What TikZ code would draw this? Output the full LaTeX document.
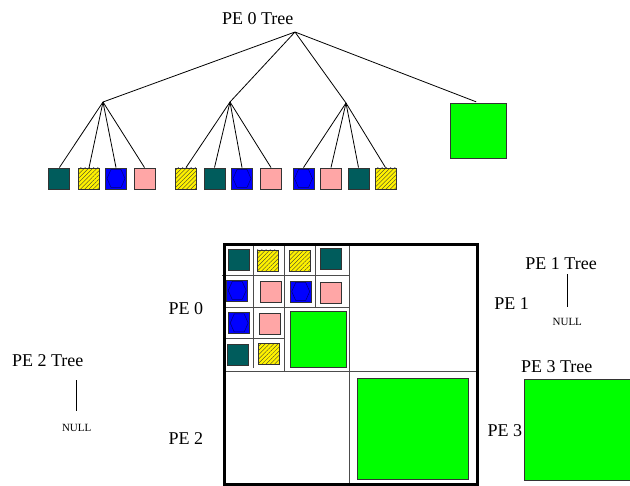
\documentclass[tikz,border=0pt]{standalone}
\usepackage{fontspec}
\setmainfont{Liberation Serif}
\usetikzlibrary{patterns.meta, positioning}
\definecolor{tealbox}{RGB}{0,92,92}
\definecolor{pinkbox}{RGB}{255,166,166}
\tikzstyle{leaf}=[draw=black!80, line width=0.9pt, inner sep=0pt, minimum size=21pt]
\tikzstyle{tl}=[leaf, fill=tealbox]
\tikzstyle{pk}=[leaf, fill=pinkbox]
\tikzstyle{yl}=[leaf, preaction={fill=yellow}, pattern={Lines[angle=45, distance=3pt, line width=0.35pt]}, pattern color=black!80]
\tikzstyle{bl}=[leaf, fill=blue, path picture={\draw[blue!45!black, line width=0.5pt] (path picture bounding box.center) +(-9,0) -- +(-5,-9) -- +(5,-9) -- +(9,0) -- +(5,9) -- +(-5,9) -- cycle;}]
\tikzstyle{big}=[draw=black!80, line width=0.9pt, fill=green, inner sep=0pt]
\tikzstyle{lbl}=[font=\fontsize{18}{20}\selectfont, inner sep=0pt, anchor=base west]
\tikzstyle{nulltext}=[font=\fontsize{11}{12}\selectfont, inner sep=0pt]
\tikzstyle{cell}=[black!70, line width=1pt]

\begin{document}
\begin{tikzpicture}[x=1pt, y=-1pt, line width=0.8pt]
  \useasboundingbox (0,0) rectangle (630,486);
  % PE 0 tree
  \node[lbl] (t0) at (221.7,25) {PE 0 Tree};
  \coordinate (r0) at (295,32);
  \coordinate (s1) at (103,102);
  \coordinate (s2) at (230,102);
  \coordinate (s3) at (346,103);
  \node[big, minimum width=56pt, minimum height=55pt] (g0) at (478,130.5) {};
  \node[tl] (a1) at (59.4,178.5) {};
  \node[yl] (a2) at (89,178.5) {};
  \node[bl] (a3) at (116,178.5) {};
  \node[pk] (a4) at (144.5,178.5) {};
  \node[yl] (b1) at (186,178.5) {};
  \node[tl] (b2) at (214.5,178.5) {};
  \node[bl] (b3) at (242,178.5) {};
  \node[pk] (b4) at (271,178.5) {};
  \node[bl] (c1) at (303.5,178.5) {};
  \node[pk] (c2) at (331,178.5) {};
  \node[tl] (c3) at (358.5,178.5) {};
  \node[yl] (c4) at (385.5,178.5) {};
  \draw (r0) -- (s1) (r0) -- (s2) (r0) -- (s3);
  \draw[shorten >=2pt] (r0) -- (g0.north);
  \foreach \i in {1,...,4} {
    \draw (s1) -- (a\i.north);
    \draw (s2) -- (b\i.north);
    \draw (s3) -- (c\i.north);
  }

  % grid
  \draw[cell] (349.3,244) -- (349.3,486);
  \draw[cell] (224,371.7) -- (477,371.7);
  \draw[cell] (222,275.7) -- (349.3,275.7);
  \draw[cell] (224,307.7) -- (349.3,307.7);
  \draw[cell] (224,338.3) -- (285,338.3);
  \draw[cell] (253.3,244) -- (253.3,368);
  \draw[cell] (284,244) -- (284,371.7);
  \draw[cell] (315,244) -- (315,307.7);
  \draw[line width=3pt] (224.7,244.7) rectangle (477,484.5);

  \node[tl] (q1) at (238.7,260.4) {};
  \node[yl] (q2) at (267.5,260.5) {};
  \node[yl] (q3) at (300,261) {};
  \node[tl] (q4) at (331.3,259.3) {};
  \node[bl] (q5) at (237.2,290.5) {};
  \node[pk] (q6) at (270.7,292.2) {};
  \node[bl] (q7) at (300.7,291.5) {};
  \node[pk] (q8) at (330.8,293.3) {};
  \node[bl] (q9) at (239.2,323) {};
  \node[pk] (q10) at (269.5,323.5) {};
  \node[tl] (q11) at (237.5,355.3) {};
  \node[yl] (q12) at (268.7,354.3) {};
  \node[big, minimum width=56pt, minimum height=55.6pt] (g1) at (318,339.5) {};
  \node[big, minimum width=111pt, minimum height=101pt] (g3) at (413.2,428.8) {};

  \node[lbl] (p0) at (168.3,315) {PE 0};
  \node[lbl] (p1) at (494,309.3) {PE 1};
  \node[lbl] (p2) at (168.3,445) {PE 2};
  \node[lbl] (p3) at (487.3,436.5) {PE 3};

  % other trees
  \node[lbl] (t1) at (525,269.5) {PE 1 Tree};
  \node[nulltext] (n1) at (567.3,321.7) {NULL};
  \draw (t1.south -| n1.north) ++(0,4) -- ([yshift=11pt]n1.north);
  \node[lbl] (t2) at (11.7,366.7) {PE 2 Tree};
  \node[nulltext] (n2) at (76.7,428.3) {NULL};
  \draw (t2.south -| n2.north) ++(0,13) -- ([yshift=13pt]n2.north);
  \node[lbl] (t3) at (520.7,373) {PE 3 Tree};
  \node[big, minimum width=112pt, minimum height=100.7pt, anchor=north west] (g4) at (524.3,379.3) {};
\end{tikzpicture}
\end{document}
